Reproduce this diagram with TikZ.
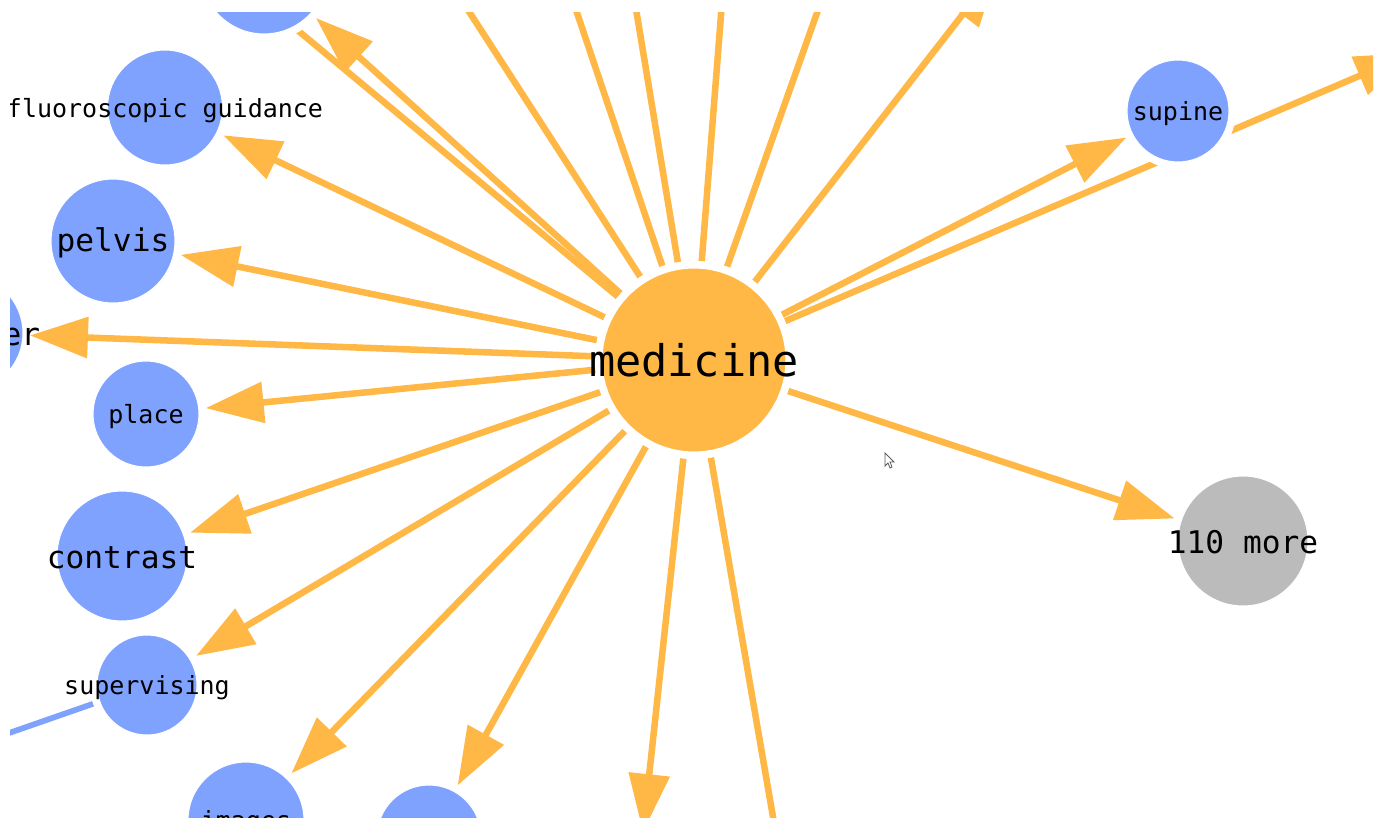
\documentclass[tikz,border=0pt]{standalone}
\usepackage{fontspec}
\setmonofont{DejaVu Sans Mono}
\usetikzlibrary{arrows.meta,backgrounds}
\definecolor{edgeor}{RGB}{255,184,69}
\definecolor{nodeblue}{RGB}{127,162,255}
\definecolor{nodegray}{RGB}{187,187,187}
\definecolor{cursorgray}{RGB}{90,90,90}
\begin{document}
\begin{tikzpicture}[x=0.75pt,y=-0.75pt,
  gnode/.style={circle,inner sep=0pt,fill=nodeblue,draw=white,line width=0.8pt,
    preaction={draw=white,line width=10.5pt},outer sep=5.25pt},
  onode/.style={gnode,fill=edgeor},
  mnode/.style={gnode,fill=nodegray},
  lblS/.style={font=\ttfamily\fontsize{18.75}{20}\selectfont,text=black,inner sep=0pt,yshift=-2pt},
  lblM/.style={font=\ttfamily\fontsize{23.4}{25}\selectfont,text=black,inner sep=0pt,yshift=-1pt},
  lblL/.style={font=\ttfamily\fontsize{32.7}{34}\selectfont,text=black,inner sep=0pt},
  edge/.style={draw=edgeor,line width=4.9pt},
  arr/.style={edge,-{Triangle[length=43.5pt,width=30pt]}},
  bedge/.style={draw=nodeblue,line width=4.3pt}]
\useasboundingbox (0,0) rectangle (1384,817);
\clip (10,13) rectangle (1373,817);
% nodes
\node[onode,minimum size=138pt,label={[lblL]center:medicine}] (m) at (694,360) {};
\node[gnode,minimum size=94.5pt] (top) at (264,-29) {};
\node[gnode,minimum size=86.25pt,label={[lblS]center:fluoroscopic guidance}] (fg) at (165,107.5) {};
\node[gnode,minimum size=93pt,label={[lblM]center:pelvis}] (pel) at (113,241) {};
\node[gnode,minimum size=87pt,label={[lblM]center:catheter}] (cath) at (-35,333) {};
\node[gnode,minimum size=79.5pt,label={[lblS]center:place}] (pl) at (146,414) {};
\node[gnode,minimum size=97.5pt,label={[lblM]center:contrast}] (con) at (122,556) {};
\node[gnode,minimum size=75pt,label={[lblS]center:supervising}] (sv) at (147,685) {};
\node[gnode,minimum size=87pt,label={[lblS]center:images}] (img) at (246,820) {};
\node[gnode,minimum size=78pt] (n9) at (429,837) {};
\node[gnode,minimum size=76.5pt,label={[lblS]center:supine}] (sup) at (1178,111) {};
\node[mnode,minimum size=97.5pt,label={[lblM]center:110 more}] (more) at (1243,541) {};
% off-screen ends
\coordinate (c0) at (141,-100);
\coordinate (c1) at (397,-100);
\coordinate (c2) at (539,-100);
\coordinate (c3) at (618,-100);
\coordinate (c4) at (730,-100);
\coordinate (c5) at (857,-100);
\coordinate (c6) at (998,-31);
\coordinate (c7) at (1413,53);
\coordinate (c8) at (796,950);
\coordinate (c9) at (643,832);
\coordinate (c10) at (-100,771);
% edges behind nodes
\begin{scope}[on background layer]
\clip (10,13) rectangle (1373,817);
\draw[arr] (m) -- (top);
\draw[edge] (m) -- (c0);
\draw[edge] (m) -- (c1);
\draw[edge] (m) -- (c2);
\draw[edge] (m) -- (c3);
\draw[edge] (m) -- (c4);
\draw[edge] (m) -- (c5);
\draw[arr] (m) -- (c6);
\draw[arr] (m) -- (sup);
\draw[arr] (m) -- (c7);
\draw[arr] (m) -- (more);
\draw[edge] (m) -- (c8);
\draw[arr] (m) -- (c9);
\draw[arr] (m) -- (n9);
\draw[arr] (m) -- (img);
\draw[arr] (m) -- (sv);
\draw[arr] (m) -- (con);
\draw[arr] (m) -- (pl);
\draw[arr] (m) -- (cath);
\draw[arr] (m) -- (pel);
\draw[arr] (m) -- (fg);
\draw[bedge] (sv) -- (c10);
\end{scope}
% mouse pointer
\draw[cursorgray,line width=0.6pt,fill=white] (885,453) -- (885,466) -- (888,463) -- (890,468) -- (892,467) -- (890,462) -- (894,462) -- cycle;
\end{tikzpicture}
\end{document}
